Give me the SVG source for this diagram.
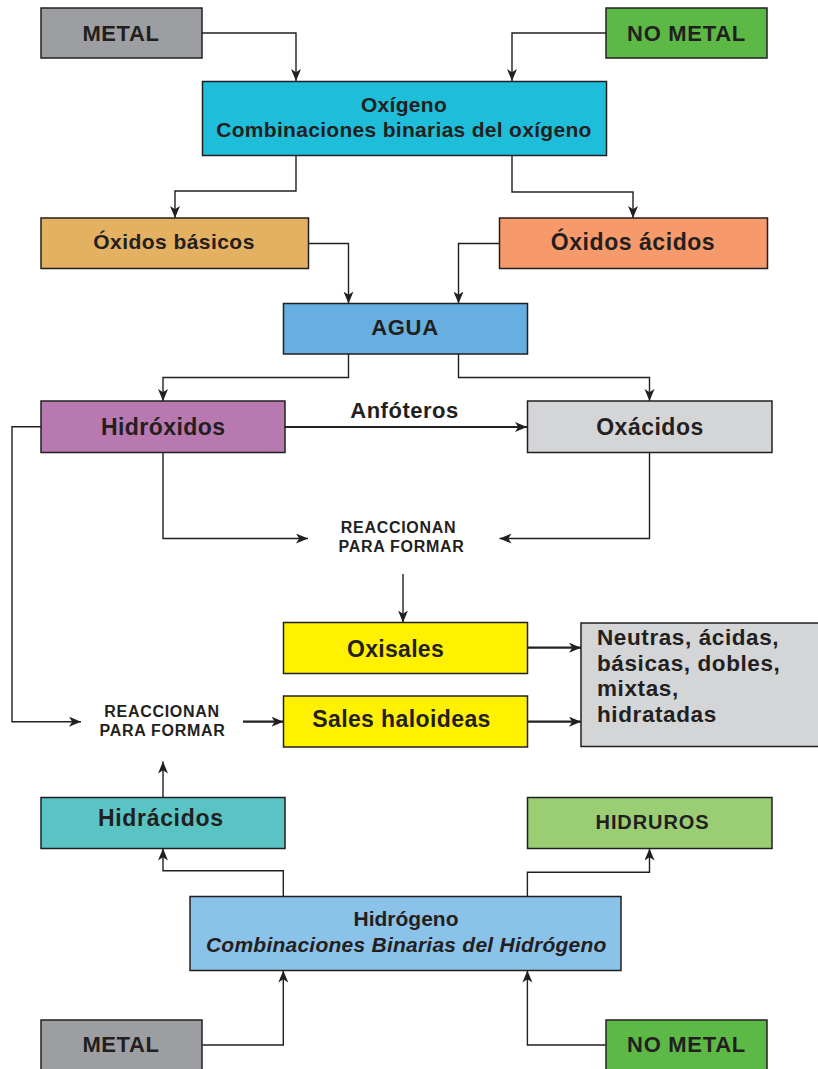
<svg xmlns="http://www.w3.org/2000/svg" width="818" height="1069" viewBox="0 0 818 1069">
<defs>
<style>
.box{stroke:#231f20;stroke-width:1.5}
.t{font-family:"Liberation Sans",Arial,sans-serif;font-weight:bold;fill:#231f20;text-anchor:middle}
.m{font-size:22px;letter-spacing:0.6px}
.sm{font-size:16px;letter-spacing:0.7px}
.c{fill:none;stroke:#231f20;stroke-width:1.4}
.thick{stroke-width:2.2}
</style>
<marker id="ah" markerUnits="userSpaceOnUse" markerWidth="13" markerHeight="11" refX="12" refY="5" orient="auto">
<path d="M0,0 L12,5 L0,10 L3.2,5 Z" fill="#231f20"/>
</marker>
</defs>
<rect width="818" height="1069" fill="#ffffff"/>

<g id="connectors">
<path class="c" d="M202,33 H296 V81" marker-end="url(#ah)"/>
<path class="c" d="M606,33 H512 V81" marker-end="url(#ah)"/>
<path class="c" d="M296,155.5 V191 H175 V218" marker-end="url(#ah)"/>
<path class="c" d="M512,155.5 V192 H633 V218" marker-end="url(#ah)"/>
<path class="c" d="M308.5,243.5 H348.5 V303.5" marker-end="url(#ah)"/>
<path class="c" d="M499.5,243.5 H458.5 V303.5" marker-end="url(#ah)"/>
<path class="c" d="M348.5,354 V377.5 H163 V401" marker-end="url(#ah)"/>
<path class="c" d="M458.5,354 V377.5 H649.5 V401" marker-end="url(#ah)"/>
<path class="c thick" d="M285,427 H527" marker-end="url(#ah)"/>
<path class="c" d="M163,452.5 V538.5 H308" marker-end="url(#ah)"/>
<path class="c" d="M649.5,452.5 V538.5 H499.5" marker-end="url(#ah)"/>
<path class="c" d="M403,574 V622.5" marker-end="url(#ah)"/>
<path class="c" d="M41,426.7 H12 V721.7 H81" marker-end="url(#ah)"/>
<path class="c thick" d="M243,721.7 H283.5" marker-end="url(#ah)"/>
<path class="c thick" d="M527.5,647.7 H581" marker-end="url(#ah)"/>
<path class="c thick" d="M527.5,721.7 H581" marker-end="url(#ah)"/>
<path class="c" d="M163,797.5 V761.5" marker-end="url(#ah)"/>
<path class="c" d="M283.3,896.5 V870.7 H163 V848.5" marker-end="url(#ah)"/>
<path class="c" d="M527.4,896.5 V872.3 H649.5 V848.5" marker-end="url(#ah)"/>
<path class="c" d="M202.4,1045 H283.3 V970.5" marker-end="url(#ah)"/>
<path class="c" d="M605.6,1045 H527.4 V970.5" marker-end="url(#ah)"/>
</g>

<g id="metal-top">
<rect class="box" x="41" y="8" width="161" height="50" fill="#9d9ea2"/>
<text class="t m" x="121" y="40.5">METAL</text>
</g>
<g id="nometal-top">
<rect class="box" x="606" y="8" width="161" height="50" fill="#5cb946"/>
<text class="t" style="font-size:22px;letter-spacing:0.7px" x="686.5" y="40.5">NO METAL</text>
</g>
<g id="oxigeno">
<rect class="box" x="202.5" y="81.5" width="404" height="74" fill="#1ebedb"/>
<text class="t" style="font-size:21px;letter-spacing:0.3px" x="404" y="111.5">Oxígeno</text>
<text class="t" style="font-size:21px;letter-spacing:0.3px" x="404" y="137">Combinaciones binarias del oxígeno</text>
</g>
<g id="oxidos-basicos">
<rect class="box" x="41" y="218" width="267.5" height="50.5" fill="#e4b062"/>
<text class="t" style="font-size:21px;letter-spacing:0.45px" x="174" y="249">Óxidos básicos</text>
</g>
<g id="oxidos-acidos">
<rect class="box" x="499.5" y="218" width="268" height="50.5" fill="#f69a6b"/>
<text class="t" style="font-size:23px;letter-spacing:0.55px" x="633" y="249.5">Óxidos ácidos</text>
</g>
<g id="agua">
<rect class="box" x="283.5" y="303.5" width="244" height="50.5" fill="#66afe0"/>
<text class="t" style="font-size:22px;letter-spacing:0.7px" x="405" y="335">AGUA</text>
</g>
<g id="hidroxidos">
<rect class="box" x="41" y="401" width="244" height="51.5" fill="#b878b0"/>
<text class="t" style="font-size:23px;letter-spacing:0.43px" x="163.2" y="435">Hidróxidos</text>
</g>
<g id="anfoteros-label">
<text class="t" style="font-size:22px;letter-spacing:0.5px" x="404.5" y="418">Anfóteros</text>
</g>
<g id="oxacidos">
<rect class="box" x="527.5" y="401" width="244.5" height="51.5" fill="#d4d5d7"/>
<text class="t" style="font-size:23px;letter-spacing:0.5px" x="650" y="434.5">Oxácidos</text>
</g>
<g id="reaccionan-1">
<text class="t sm" x="398.5" y="532.7">REACCIONAN</text>
<text class="t sm" x="401.5" y="551.7">PARA FORMAR</text>
</g>
<g id="oxisales">
<rect class="box" x="283.5" y="622.5" width="244" height="51" fill="#fff100"/>
<text class="t" style="font-size:23px;letter-spacing:0.3px" x="395.5" y="656.5">Oxisales</text>
</g>
<g id="sales-haloideas">
<rect class="box" x="283.5" y="696" width="244" height="51" fill="#fff100"/>
<text class="t" style="font-size:23px;letter-spacing:0.4px" x="401.5" y="727">Sales haloideas</text>
</g>
<g id="tipos-sales">
<rect class="box" x="581" y="623" width="240" height="123.5" fill="#d4d5d7"/>
<g class="t" style="font-size:22.5px;letter-spacing:0.6px;text-anchor:start">
<text x="597" y="645">Neutras, ácidas,</text>
<text x="597" y="670.5">básicas, dobles,</text>
<text x="597" y="696">mixtas,</text>
<text x="597" y="721.5">hidratadas</text>
</g>
</g>
<g id="reaccionan-2">
<text class="t sm" x="162" y="716.7">REACCIONAN</text>
<text class="t sm" x="162.5" y="735.7">PARA FORMAR</text>
</g>
<g id="hidracidos">
<rect class="box" x="41" y="797.5" width="244" height="51" fill="#5ac4c5"/>
<text class="t" style="font-size:23px;letter-spacing:0.68px" x="160.8" y="825.5">Hidrácidos</text>
</g>
<g id="hidruros">
<rect class="box" x="527.5" y="797.5" width="244.5" height="51" fill="#9bce74"/>
<text class="t" style="font-size:20px;letter-spacing:0.9px" x="652.5" y="828.5">HIDRUROS</text>
</g>
<g id="hidrogeno">
<rect class="box" x="190" y="896.5" width="431" height="74" fill="#8ac2ea"/>
<text class="t" style="font-size:21px;letter-spacing:0px" x="406" y="926">Hidrógeno</text>
<text class="t" style="font-size:21px;letter-spacing:0.24px;font-style:italic" x="406.3" y="951.5">Combinaciones Binarias del Hidrógeno</text>
</g>
<g id="metal-bottom">
<rect class="box" x="41" y="1020" width="161" height="60" fill="#9d9ea2"/>
<text class="t m" x="121" y="1052">METAL</text>
</g>
<g id="nometal-bottom">
<rect class="box" x="606" y="1020" width="161" height="60" fill="#5cb946"/>
<text class="t" style="font-size:22px;letter-spacing:0.7px" x="686.5" y="1052">NO METAL</text>
</g>
</svg>
